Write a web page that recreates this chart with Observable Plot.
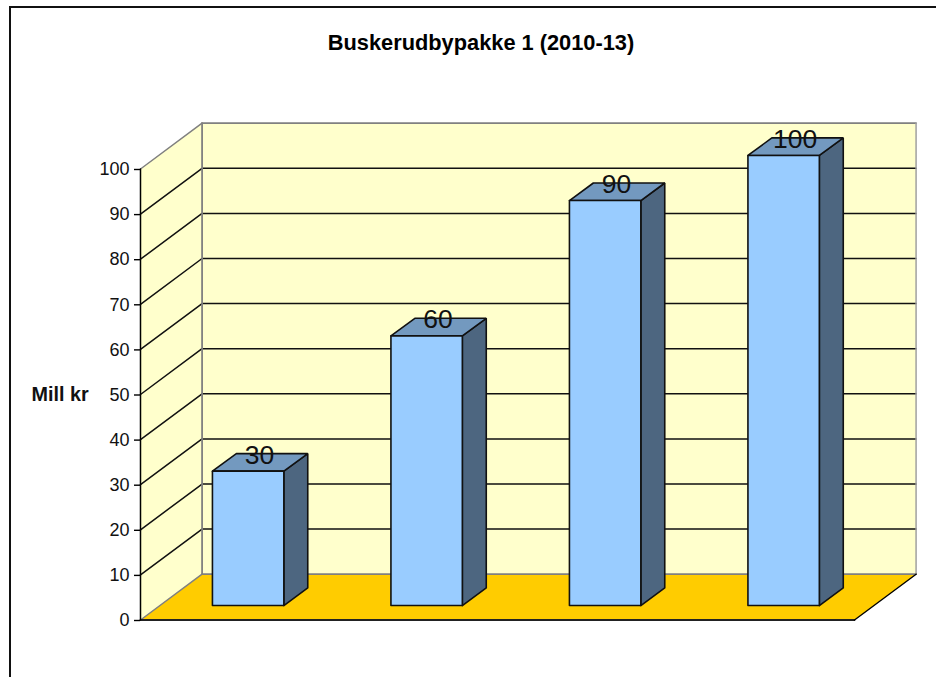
<!DOCTYPE html>
<html>
<head>
<meta charset="utf-8">
<script src="https://cdn.jsdelivr.net/npm/d3@7"></script>
<script src="https://cdn.jsdelivr.net/npm/@observablehq/plot@0.6"></script>
<style>
  html, body { margin: 0; padding: 0; background: #fff; }
  #chart { position: relative; width: 936px; height: 677px; overflow: hidden; font-family: "Liberation Sans", Arial, sans-serif; }
  #frame { position: absolute; left: 9px; top: 6px; width: 940px; height: 690px; border: 2px solid #111; }
  #title { position: absolute; left: 0; width: 962px; top: 31px; margin: 0; text-align: center; font-size: 21.8px; line-height: 24px; font-weight: bold; color: #000; }
  svg { position: absolute; left: 0; top: 0; }
</style>
</head>
<body>
<div id="chart">
  <div id="frame"></div>
  <h1 id="title">Buskerudbypakke 1 (2010-13)</h1>
</div>
<script>
const yLabel = "Mill kr";
const categories = [0, 1, 2, 3];
const values = [30, 60, 90, 100];
const yTicks = [0, 10, 20, 30, 40, 50, 60, 70, 80, 90, 100];

// 3-D projection, in scale units
const wallDx = 0.345, wallDy = 10.15;         // back wall offset
const barLeft = 0.403, barWidth = 0.4;        // bar front in category widths
const baseDy = 3.2, frontDy = 3, sideDx = 0.134, sideDy = 3.9; // bar depth
const xMax = categories.length, yMax = 100;

const poly = pts => pts.concat([pts[0]]).map(([x, y]) => ({x, y}));
const shape = (pts, fill, stroke, strokeWidth) =>
  Plot.line(poly(pts), {x: "x", y: "y", fill, stroke, strokeWidth, strokeLinejoin: "miter", curve: "linear"});
const seg = (a, b, stroke, strokeWidth) =>
  Plot.line([a, b].map(([x, y]) => ({x, y})), {x: "x", y: "y", stroke, strokeWidth});

const wallMarks = [
  shape([[wallDx, wallDy], [xMax + wallDx, wallDy], [xMax + wallDx, yMax + wallDy], [wallDx, yMax + wallDy]], "#ffffcc", "none", 0),
  shape([[0, 0], [wallDx, wallDy], [wallDx, yMax + wallDy], [0, yMax]], "#ffffcc", "none", 0),
  shape([[0, 0], [xMax, 0], [xMax + wallDx, wallDy], [wallDx, wallDy]], "#ffcc00", "none", 0),
  ...yTicks.slice(1, -1).map(v => Plot.line(
    [[0, v], [wallDx, v + wallDy], [xMax + wallDx, v + wallDy]].map(([x, y]) => ({x, y})),
    {x: "x", y: "y", stroke: "#111", strokeWidth: 1.5})),
  seg([0, yMax], [wallDx, yMax + wallDy], "#808080", 1.5),
  seg([wallDx, yMax + wallDy], [xMax + wallDx, yMax + wallDy], "#808080", 1.8),
  seg([xMax + wallDx, yMax + wallDy], [xMax + wallDx, wallDy], "#a0a0a0", 1.5),
  seg([wallDx, wallDy], [wallDx, yMax + wallDy], "#808080", 1.8),
  seg([wallDx, wallDy], [xMax + wallDx, wallDy], "#808080", 1.8),
  seg([0, 0], [wallDx, wallDy], "#808080", 1.5),
  seg([0, 0], [xMax, 0], "#222", 1.8),
  seg([xMax, 0], [xMax + wallDx, wallDy], "#000", 1.4),
  seg([0, 0], [0, yMax], "#000", 1.5)
];

const barMarks = categories.flatMap((c, i) => {
  const v = values[i];
  const x0 = c + barLeft, x1 = x0 + barWidth;
  const b = baseDy, t = v + frontDy;
  return [
    shape([[x1, b], [x1 + sideDx, b + sideDy], [x1 + sideDx, t + sideDy], [x1, t]], "#4d6680", "#111", 1.6),
    shape([[x0, t], [x1, t], [x1 + sideDx, t + sideDy], [x0 + sideDx, t + sideDy]], "#7399bf", "#111", 1.6),
    shape([[x0, b], [x1, b], [x1, t], [x0, t]], "#99ccff", "#111", 1.6)
  ];
});

const labels = categories.map((c, i) => ({
  x: c + barLeft + (barWidth + sideDx) / 2,
  y: values[i] + frontDy + sideDy,
  text: String(values[i])
}));

const plot = Plot.plot({
  width: 936,
  height: 677,
  marginLeft: 140,
  marginRight: 82,
  marginTop: 168.5,
  marginBottom: 57.5,
  style: {background: "transparent", fontFamily: "'Liberation Sans', Arial, sans-serif"},
  x: {domain: [0, xMax], axis: null},
  y: {domain: [0, yMax], axis: null},
  marks: [
    ...wallMarks,
    Plot.axisY(yTicks, {
      anchor: "left", tickSize: 6, tickPadding: 5, fontSize: 18, label: null,
      stroke: "#000", strokeWidth: 1.4, fill: "#111", dy: 0.5
    }),
    ...barMarks,
    Plot.text(labels, {x: "x", y: "y", text: "text", dx: -0.5, dy: 1.5, fontSize: 26.5, fill: "#111", textAnchor: "middle", lineAnchor: "middle"}),
    Plot.text([yLabel], {text: d => d, y: [50], frameAnchor: "left", dx: -109, textAnchor: "start", fontSize: 19.8, fontWeight: "bold", fill: "#111"})
  ]
});
document.getElementById("chart").appendChild(plot);
</script>
</body>
</html>
